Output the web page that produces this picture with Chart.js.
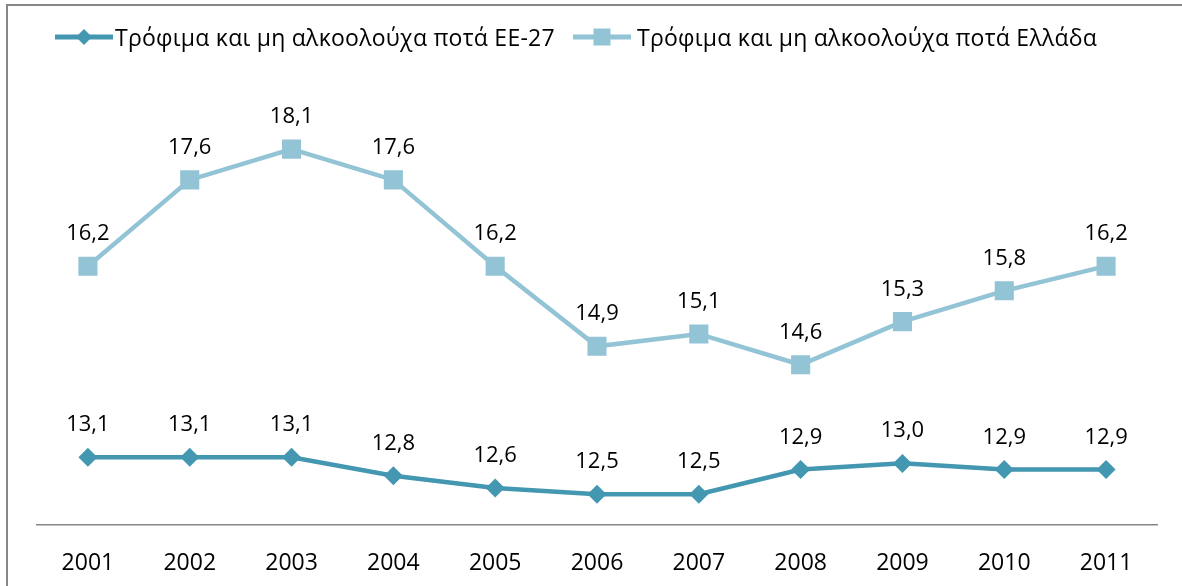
<!DOCTYPE html>
<html><head><meta charset="utf-8">
<script src="https://cdn.jsdelivr.net/npm/chart.js@4.4.1/dist/chart.umd.min.js"></script>
<style>
html,body{margin:0;padding:0;background:#fff;overflow:hidden;}
#wrap{position:relative;width:1182px;height:586px;overflow:hidden;}
#frame{position:absolute;left:6px;top:4px;width:1300px;height:700px;border:2px solid #878787;box-sizing:border-box;}
#c{position:absolute;left:0;top:0;}
.legtxt{position:absolute;font-family:'Open Sans';font-size:23px;line-height:23px;color:#000;white-space:nowrap;letter-spacing:0.25px;}
.legicon{position:absolute;}
</style>
</head><body>
<div id="wrap">
  <div id="frame"></div>
  <canvas id="c" width="1182" height="586"></canvas>
</div>
<script>
const years = ['2001','2002','2003','2004','2005','2006','2007','2008','2009','2010','2011'];
const euValues = [13.1,13.1,13.1,12.8,12.6,12.5,12.5,12.9,13.0,12.9,12.9];
const grValues = [16.2,17.6,18.1,17.6,16.2,14.9,15.1,14.6,15.3,15.8,16.2];
const seriesNames = ['Τρόφιμα και μη αλκοολούχα ποτά ΕΕ-27','Τρόφιμα και μη αλκοολούχα ποτά Ελλάδα'];
const seriesColors = ['#4397B0','#93C4D6'];
const seriesMarkers = ['rectRot','rect'];

const valueLabels = {
  id:'valueLabels',
  afterDatasetsDraw(chart){
    const ctx = chart.ctx; ctx.save();
    ctx.font = "22px 'Open Sans'"; ctx.fillStyle = '#000';
    ctx.textAlign = 'center'; ctx.textBaseline = 'alphabetic';
    chart.data.datasets.forEach((ds,i)=>{
      chart.getDatasetMeta(i).data.forEach((pt,j)=>{
        ctx.fillText(ds.data[j].toFixed(1).replace('.',','), pt.x, pt.y-26);
      });
    });
    ctx.restore();
  }
};

new Chart(document.getElementById('c'), {
  type:'line',
  data:{
    labels: years,
    datasets:[
      {label:seriesNames[0], data:euValues, borderColor:seriesColors[0], backgroundColor:seriesColors[0],
       borderWidth:4.5, pointStyle:seriesMarkers[0], pointRadius:9.5, pointBorderWidth:0, tension:0},
      {label:seriesNames[1], data:grValues, borderColor:seriesColors[1], backgroundColor:seriesColors[1],
       borderWidth:4.5, pointStyle:seriesMarkers[1], pointRadius:13.5, pointBorderWidth:0, tension:0}
    ]
  },
  options:{
    responsive:false, animation:false, events:[],
    layout:{padding:{left:37,right:25,top:32,bottom:0}},
    plugins:{legend:{display:false}, tooltip:{enabled:false}},
    scales:{
      x:{offset:true, grid:{display:false, drawTicks:false},
         border:{display:true, color:'#868686', width:1.5},
         ticks:{padding:25, color:'#000', font:{family:"'Open Sans'", size:23}},
         afterFit(s){ s.height = 61; }},
      y:{display:false, min:12, max:20}
    }
  },
  plugins:[valueLabels]
});

// HTML legend
const wrap = document.getElementById('wrap');
const legendPos = [{icon:55, text:115},{icon:573, text:637}];
seriesNames.forEach((name,i)=>{
  const svgNS='http://www.w3.org/2000/svg';
  const svg=document.createElementNS(svgNS,'svg');
  svg.setAttribute('width','58'); svg.setAttribute('height','20');
  svg.setAttribute('class','legicon');
  svg.style.left = legendPos[i].icon+'px'; svg.style.top='27px';
  const ln=document.createElementNS(svgNS,'line');
  ln.setAttribute('x1','0');ln.setAttribute('x2','58');ln.setAttribute('y1','10');ln.setAttribute('y2','10');
  ln.setAttribute('stroke',seriesColors[i]);ln.setAttribute('stroke-width','5');ln.setAttribute('stroke-linecap','round');
  svg.appendChild(ln);
  let m;
  if(seriesMarkers[i]==='rectRot'){
    m=document.createElementNS(svgNS,'polygon');
    m.setAttribute('points','29,2 37,10 29,18 21,10');
  } else {
    m=document.createElementNS(svgNS,'rect');
    m.setAttribute('x','20.5');m.setAttribute('y','1.5');m.setAttribute('width','17');m.setAttribute('height','17');
  }
  m.setAttribute('fill',seriesColors[i]);
  svg.appendChild(m);
  wrap.appendChild(svg);
  const t=document.createElement('div');
  t.className='legtxt'; t.textContent=name;
  t.style.left=legendPos[i].text+'px'; t.style.top='26px';
  wrap.appendChild(t);
});
</script>
</body></html>
